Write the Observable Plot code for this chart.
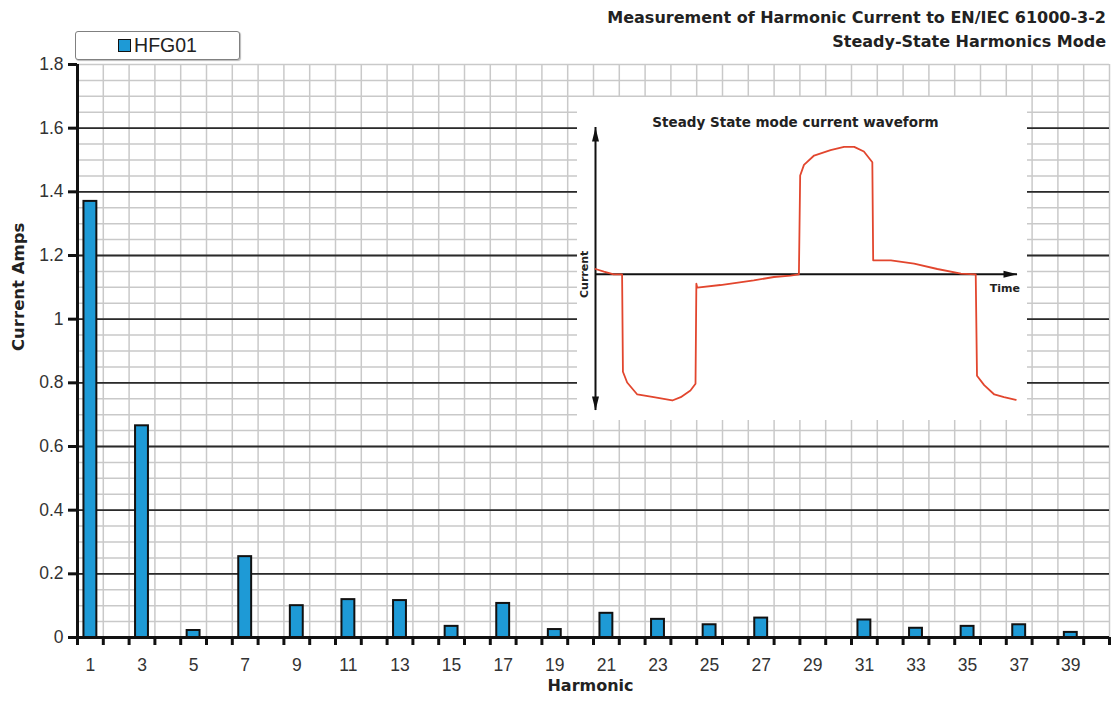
<!DOCTYPE html>
<html><head><meta charset="utf-8">
<script src="https://cdn.jsdelivr.net/npm/d3@7"></script>
<script src="https://cdn.jsdelivr.net/npm/@observablehq/plot@0.6"></script>
<style>
body{margin:0;background:#fff;font-family:"Liberation Sans",Arial,sans-serif;}
#wrap{position:relative;width:1116px;height:701px;overflow:hidden;background:#fff;}
#title{position:absolute;right:10px;top:6px;text-align:right;font-family:"DejaVu Sans",sans-serif;font-weight:bold;font-size:16px;line-height:24px;color:#222;}
#legend{position:absolute;left:75px;top:31px;width:163px;height:27px;border:1.5px solid #808080;border-radius:3px;background:#fff;display:flex;align-items:center;justify-content:center;font-size:19.5px;color:#222;box-shadow:1px 1px 1px #bbb;}
#legend .sw{width:11px;height:11px;background:#1e9ad6;border:1.5px solid #111;margin-right:3px;}
#inset{position:absolute;left:577px;top:97px;width:450px;height:323px;background:#fff;}
</style></head>
<body>
<div id="wrap">
  <div id="main"></div>
  <div id="title">Measurement of Harmonic Current to EN/IEC 61000-3-2<br>Steady-State Harmonics Mode</div>
  <div id="legend"><div class="sw"></div><span id="legtext"></span></div>
  <div id="inset"></div>
</div>
<script>
// ---- main chart data ----
const seriesName = "HFG01";
const harmonics = [1,3,5,7,9,11,13,15,17,19,21,23,25,27,29,31,33,35,37,39];
const currents  = [1.37,0.665,0.022,0.254,0.100,0.119,0.116,0.035,0.107,0.025,0.076,0.057,0.040,0.061,0,0.055,0.029,0.035,0.040,0.016];
const xTickLabels = [1,3,5,7,9,11,13,15,17,19,21,23,25,27,29,31,33,35,37,39];
const yTickLabels = [0,0.2,0.4,0.6,0.8,1,1.2,1.4,1.6,1.8];
const harmonicCount = 40;

// ---- inset waveform data ----
const waveTime    = [0,2.0,4.3,6.3,6.5,7.5,9.9,13.8,18.2,20.2,22.5,23.7,23.9,24.1,29.6,37.5,42.3,46.2,48.2,48.5,49.4,51.8,55.7,58.9,61.3,63.6,65.6,65.8,70.0,75.5,81.0,86.6,90.1,90.4,92.1,94.5,96.8,99.6];
const waveCurrent = [0.04,0.02,0,0,-0.73,-0.81,-0.90,-0.92,-0.945,-0.92,-0.87,-0.82,-0.07,-0.10,-0.08,-0.045,-0.02,-0.01,0,0.74,0.82,0.89,0.93,0.955,0.955,0.92,0.84,0.105,0.105,0.08,0.04,0.005,0,-0.76,-0.83,-0.90,-0.92,-0.94];
const insetTimeDomain = [0,100];
const insetCurrentDomain = [-1.02,1.10];
const insetLabels = [{text:"Time", t:97.0, c:-0.107, rotate:0},{text:"Current", t:-2.5, c:0, rotate:-90}];

document.getElementById("legtext").textContent = seriesName;

const bars = harmonics.map((h,i)=>({h, c: currents[i]}));
const edges = d3.range(0.5, harmonicCount + 1, 1);
const yMinor = d3.range(0, 1.8001, 0.05).map(v => +v.toFixed(2));
const font = '"Liberation Sans", Arial, sans-serif';
const boldFont = '"DejaVu Sans", sans-serif';

const main = Plot.plot({
  width: 1116, height: 701,
  marginLeft: 77, marginRight: 7, marginTop: 64, marginBottom: 64,
  style: {fontFamily: font, background: "#fff"},
  x: {domain: [0.5, harmonicCount + 0.5], axis: null},
  y: {domain: [0, 1.8], axis: null},
  marks: [
    Plot.ruleY(yMinor, {stroke: "#c9c9c9", strokeWidth: 1.5}),
    Plot.ruleX(edges, {stroke: "#c9c9c9", strokeWidth: 1.5}),
    Plot.ruleY(yTickLabels.filter(v => v > 0 && v < 1.8), {stroke: "#2a2a2a", strokeWidth: 1.8}),
    Plot.rectY(bars, {x1: d => d.h - 0.25, x2: d => d.h + 0.25, y1: 0, y2: "c", fill: "#1e9ad6", stroke: "#111", strokeWidth: 2}),
    Plot.ruleX([0.5], {stroke: "#111", strokeWidth: 3}),
    Plot.ruleY([0], {stroke: "#111", strokeWidth: 3}),
    Plot.axisY({ticks: yTickLabels, tickSize: 9, tickPadding: 5, tickFormat: d => String(d), fontSize: 17.5, stroke: "#111", strokeWidth: 3, color: "#333", label: null}),
    Plot.axisX({ticks: edges, tickSize: 8, tickFormat: () => "", stroke: "#111", strokeWidth: 3, label: null}),
    Plot.axisX({ticks: xTickLabels, tickSize: 0, tickPadding: 21, tickFormat: d => String(d), fontSize: 17.5, color: "#333", label: null}),
    Plot.text(["Harmonic"], {frameAnchor: "bottom", dy: 53, fontSize: 16, fontWeight: "bold", fontFamily: boldFont, fill: "#222", dx: -3}),
    Plot.text(["Current Amps"], {frameAnchor: "left", dx: -59, rotate: -90, fontSize: 16.5, fontWeight: "bold", fontFamily: boldFont, fill: "#222"})
  ]
});
document.getElementById("main").appendChild(main);

// inset
const wave = waveTime.map((t,i)=>({t, c: waveCurrent[i]}));
const arrowSymbol = {draw(ctx){ ctx.moveTo(0,0); ctx.lineTo(3.5,14); ctx.lineTo(-3.5,14); ctx.closePath(); }};
const arrowHeads = [
  {t: insetTimeDomain[0], c: insetCurrentDomain[1], rot: 0},
  {t: insetTimeDomain[0], c: insetCurrentDomain[0], rot: 180},
  {t: insetTimeDomain[1], c: 0, rot: 90}
];
const inset = Plot.plot({
  width: 450, height: 323,
  marginLeft: 18, marginRight: 10, marginTop: 30, marginBottom: 10,
  style: {fontFamily: boldFont, background: "#fff"},
  x: {domain: insetTimeDomain, axis: null},
  y: {domain: insetCurrentDomain, axis: null},
  marks: [
    Plot.text(["Steady State mode current waveform"], {frameAnchor: "top", dy: -10, dx: -11, fontSize: 13.5, fontWeight: "bold", fill: "#222"}),
    Plot.ruleX([insetTimeDomain[0]], {y1: insetCurrentDomain[0], y2: insetCurrentDomain[1], stroke: "#111", strokeWidth: 2}),
    Plot.ruleY([0], {x1: insetTimeDomain[0], x2: insetTimeDomain[1], stroke: "#111", strokeWidth: 2}),
    Plot.line(wave, {x: "t", y: "c", stroke: "#e2462e", strokeWidth: 1.8}),
    Plot.dot(arrowHeads, {x: "t", y: "c", rotate: "rot", symbol: arrowSymbol, fill: "#111", stroke: "none", r: 5}),
    Plot.text(insetLabels, {x: "t", y: "c", text: "text", rotate: "rotate", fontSize: 11, fontWeight: "bold", fill: "#222"})
  ]
});
document.getElementById("inset").appendChild(inset);
</script>
</body></html>
